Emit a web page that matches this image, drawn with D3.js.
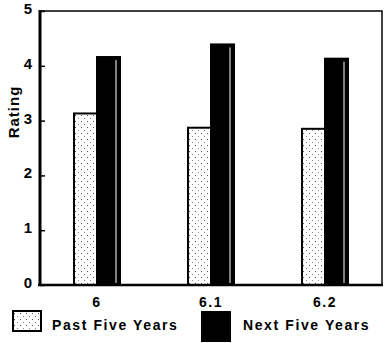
<!DOCTYPE html>
<html>
<head>
<meta charset="utf-8">
<script src="https://cdn.jsdelivr.net/npm/d3@7"></script>
<style>
  body { margin: 0; background: #fff; }
  text { font-family: "Liberation Sans", Arial, sans-serif; font-weight: bold; fill: #000; }
</style>
</head>
<body>
<svg width="387" height="343"></svg>
<script>
  // chart data
  var categories = ["6", "6.1", "6.2"];
  var series = ["Past Five Years", "Next Five Years"];
  var pastValues = [3.13, 2.87, 2.85];
  var nextValues = [4.16, 4.39, 4.13];
  var yTicks = [0, 1, 2, 3, 4, 5];

(function() {
  var svg = d3.select("svg");
  var mLeft = 40, mRight = 382, mTop = 11, mBottom = 285;

  var x = d3.scaleBand()
      .domain(categories)
      .range([mLeft, mRight]);

  var y = d3.scaleLinear()
      .domain([0, 5])
      .range([mBottom, mTop]);

  var inner = d3.scaleBand()
      .domain(series)
      .range([-23, 23]);

  // dotted fill
  var defs = svg.append("defs");
  var pat = defs.append("pattern")
      .attr("id", "dots")
      .attr("patternUnits", "userSpaceOnUse")
      .attr("width", 6).attr("height", 6);
  pat.append("rect").attr("width", 6).attr("height", 6).attr("fill", "#fff");
  pat.append("rect").attr("x", 2).attr("y", 1).attr("width", 1).attr("height", 1).attr("fill", "#555");
  pat.append("rect").attr("x", 5).attr("y", 4).attr("width", 1).attr("height", 1).attr("fill", "#888");

  var fills = { "Past Five Years": "url(#dots)", "Next Five Years": "#000" };

  // frame
  svg.append("rect")
      .attr("x", mLeft).attr("y", mTop)
      .attr("width", mRight - mLeft).attr("height", mBottom - mTop)
      .attr("fill", "none").attr("stroke", "#000").attr("stroke-width", 1.5);

  var rows = categories.map(function(c, i) {
    return [
      { cat: c, s: series[0], v: pastValues[i] },
      { cat: c, s: series[1], v: nextValues[i] }
    ];
  });

  var g = svg.append("g");
  g.selectAll("g.grp")
    .data(rows)
    .enter().append("g")
      .attr("class", "grp")
      .attr("transform", function(d) { return "translate(" + (x(d[0].cat) + x.bandwidth() / 2) + ",0)"; })
    .selectAll("rect")
    .data(function(d) { return d; })
    .enter().append("rect")
      .attr("x", function(d) { return inner(d.s); })
      .attr("y", function(d) { return y(d.v); })
      .attr("width", inner.bandwidth())
      .attr("height", function(d) { return y(0) - y(d.v); })
      .attr("fill", function(d) { return fills[d.s]; })
      .attr("stroke", "#000")
      .attr("stroke-width", 2);

  // white highlight line in dark bars
  g.selectAll("g.grp").each(function(d) {
    var b = d[1];
    d3.select(this).append("line")
        .attr("x1", inner(b.s) + inner.bandwidth() - 4)
        .attr("x2", inner(b.s) + inner.bandwidth() - 4)
        .attr("y1", y(b.v) + 3)
        .attr("y2", y(0) - 2)
        .attr("stroke", "#fff")
        .attr("stroke-width", 1);
  });

  // y axis
  var yAxis = svg.append("g")
      .attr("transform", "translate(" + mLeft + ",0)")
      .call(d3.axisRight(y).tickValues(yTicks).tickSize(5).tickFormat(""));
  yAxis.select(".domain").remove();
  yAxis.selectAll("line").attr("stroke", "#000").attr("stroke-width", 1.5);

  svg.append("line")
      .attr("x1", mLeft).attr("x2", mLeft)
      .attr("y1", mTop - 1).attr("y2", mBottom + 1)
      .attr("stroke", "#000").attr("stroke-width", 3);
  svg.append("line")
      .attr("x1", mLeft - 2).attr("x2", mRight + 1)
      .attr("y1", mBottom).attr("y2", mBottom)
      .attr("stroke", "#000").attr("stroke-width", 2.5);

  svg.append("g").selectAll("text")
    .data(yTicks)
    .enter().append("text")
      .attr("x", 32)
      .attr("y", function(d) { return y(d) + 3; })
      .attr("text-anchor", "end")
      .attr("font-size", 15)
      .text(function(d) { return d; });

  svg.append("text")
      .attr("transform", "translate(19,112) rotate(-90)")
      .attr("text-anchor", "middle")
      .attr("font-size", 15)
      .attr("letter-spacing", 1)
      .text("Rating");

  // x labels
  svg.append("g").selectAll("text")
    .data(categories)
    .enter().append("text")
      .attr("x", function(d) { return x(d) + x.bandwidth() / 2; })
      .attr("y", 307)
      .attr("text-anchor", "middle")
      .attr("font-size", 14)
      .attr("letter-spacing", 1.5)
      .text(function(d) { return d; });

  // legend
  var legend = [
    { s: series[0], bx: 13, by: 311, bw: 28, bh: 20, tx: 52 },
    { s: series[1], bx: 202, by: 312, bw: 28, bh: 29, tx: 243 }
  ];
  var lg = svg.append("g").selectAll("g")
    .data(legend)
    .enter().append("g");
  lg.append("rect")
      .attr("x", function(d) { return d.bx; })
      .attr("y", function(d) { return d.by; })
      .attr("width", function(d) { return d.bw; })
      .attr("height", function(d) { return d.bh; })
      .attr("fill", function(d) { return fills[d.s]; })
      .attr("stroke", "#000")
      .attr("stroke-width", 2);
  lg.append("text")
      .attr("x", function(d) { return d.tx; })
      .attr("y", 330)
      .attr("font-size", 14)
      .attr("letter-spacing", 1.6)
      .text(function(d) { return d.s; });
})();
</script>
</body>
</html>
